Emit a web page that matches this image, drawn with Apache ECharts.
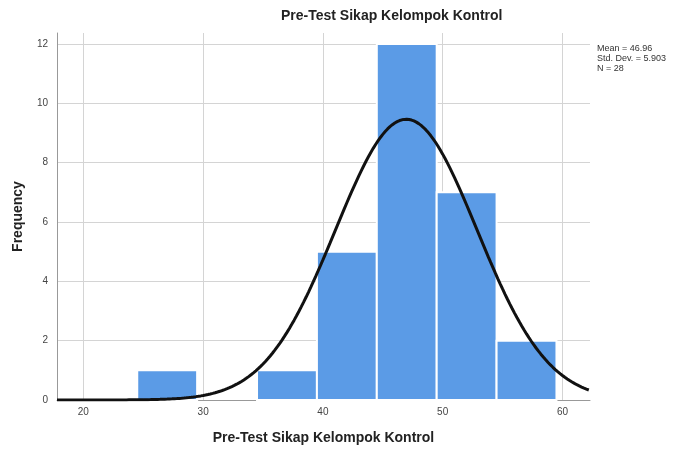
<!DOCTYPE html>
<html>
<head>
    <meta charset="utf-8">
    <title>Pre-Test Sikap Kelompok Kontrol</title>
    <script src="https://cdn.jsdelivr.net/npm/echarts@6/dist/echarts.min.js"></script>
    <style>
        *{margin:0;padding:0;}
        html,body{width:100%;height:100%;overflow:hidden;background:#fff;}
        #main{width:692px;height:450px;}
    </style>
</head>
<body>
<div id="main"></div>
<script>
    // histogram bins: [start, end, count]
    let binStarts = [24.5, 34.5, 39.5, 44.5, 49.5, 54.5];
    let binEnds = [29.5, 39.5, 44.5, 49.5, 54.5, 59.5];
    let counts = [1, 1, 5, 12, 7, 2];
    let xTicks = [20, 30, 40, 50, 60];
    let yTicks = [0, 2, 4, 6, 8, 10, 12];
    // statistics printed on the chart
    let mean = 46.96, sd = 5.903, n = 28, binWidth = 5;

    let xMin = 17.8, xMax = 62.3;

    // normal curve that SPSS draws from the printed mean / std. dev. / N
    let curve = [];
    for (let x = xMin; x <= xMax + 0.001; x += 0.2) {
        let z = (x - mean) / sd;
        curve.push([x, n * binWidth / (sd * Math.sqrt(2 * Math.PI)) * Math.exp(-z * z / 2)]);
    }

    let bins = binStarts.map((s, i) => [s, binEnds[i], counts[i]]);

    let myChart = echarts.init(document.getElementById('main'));
    let font = 'Liberation Sans, Arial, sans-serif';
    let option = {
        backgroundColor: '#fff',
        animation: false,
        title: {
            text: 'Pre-Test Sikap Kelompok Kontrol',
            left: 276, top: 4,
            textStyle: {fontFamily: font, fontSize: 14, fontWeight: 'bold', color: '#222'}
        },
        grid: {left: 57, right: 102, top: 33, bottom: 49},
        graphic: [{
            type: 'text', left: 597, top: 44,
            style: {
                text: 'Mean = 46.96\nStd. Dev. = 5.903\nN = 28',
                fontFamily: font, fontSize: 9, lineHeight: 10, fill: '#333'
            }
        }],
        xAxis: {
            type: 'value', min: xMin, max: xMax,
            name: 'Pre-Test Sikap Kelompok Kontrol',
            nameLocation: 'middle', nameGap: 31,
            nameTextStyle: {fontFamily: font, fontSize: 14, fontWeight: 'bold', color: '#222'},
            axisLine: {lineStyle: {color: '#999'}},
            axisTick: {show: false, customValues: xTicks},
            axisLabel: {customValues: xTicks, fontFamily: font, fontSize: 10, color: '#444', margin: 7},
            splitLine: {show: true, lineStyle: {color: '#d4d4d4'}}
        },
        yAxis: {
            type: 'value', min: 0, max: 12.37,
            name: 'Frequency',
            nameLocation: 'middle', nameGap: 32,
            nameTextStyle: {fontFamily: font, fontSize: 14, fontWeight: 'bold', color: '#222'},
            axisLine: {show: true, lineStyle: {color: '#999'}},
            axisTick: {show: false, customValues: yTicks},
            axisLabel: {customValues: yTicks, fontFamily: font, fontSize: 10, color: '#444', margin: 9},
            splitLine: {show: true, lineStyle: {color: '#d4d4d4'}}
        },
        series: [{
            type: 'custom',
            data: bins,
            renderItem: function (params, api) {
                let p0 = api.coord([api.value(0), 0]);
                let p1 = api.coord([api.value(1), api.value(2)]);
                return {
                    type: 'rect',
                    shape: {x: p0[0], y: p1[1], width: p1[0] - p0[0], height: p0[1] - p1[1]},
                    style: {fill: '#5b9be6', stroke: '#fff', lineWidth: 2}
                };
            },
            encode: {x: [0, 1], y: 2},
            z: 2
        }, {
            type: 'line',
            data: curve,
            showSymbol: false,
            lineStyle: {color: '#111', width: 3},
            z: 3
        }]
    };
    myChart.setOption(option);
</script>
</body>
</html>
